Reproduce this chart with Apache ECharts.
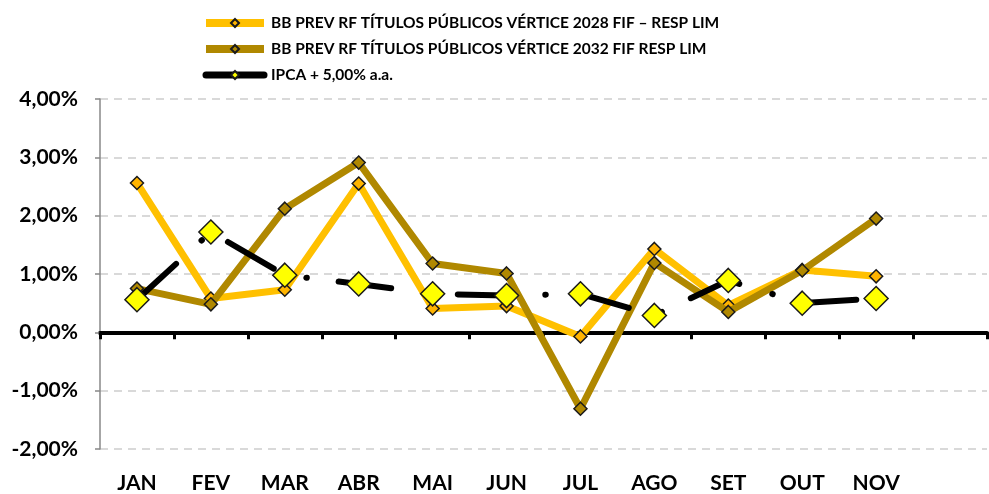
<!DOCTYPE html>
<html>
<head>
<meta charset="utf-8">
<script src="https://cdn.jsdelivr.net/npm/echarts@6/dist/echarts.min.js"></script>
<style>
html, body { margin: 0; padding: 0; background: #fff; }
#main { width: 989px; height: 494px; }
</style>
</head>
<body>
<div id="main"></div>
<script>
var months = ['JAN', 'FEV', 'MAR', 'ABR', 'MAI', 'JUN', 'JUL', 'AGO', 'SET', 'OUT', 'NOV', ''];
var names = [
    'BB PREV RF TÍTULOS PÚBLICOS VÉRTICE 2028 FIF – RESP LIM',
    'BB PREV RF TÍTULOS PÚBLICOS VÉRTICE 2032 FIF RESP LIM',
    'IPCA + 5,00% a.a.'
];
var v2028 = [2.56, 0.58, 0.73, 2.55, 0.41, 0.45, -0.07, 1.43, 0.46, 1.07, 0.96, null];
var v2032 = [0.75, 0.48, 2.12, 2.91, 1.18, 1.01, -1.31, 1.19, 0.35, 1.06, 1.95, null];
var ipca = [0.56, 1.72, 0.98, 0.83, 0.66, 0.63, 0.66, 0.29, 0.89, 0.50, 0.58, null];

var font = 'Lato, "Open Sans", sans-serif';

var chart = echarts.init(document.getElementById('main'));
chart.setOption({
    animation: false,
    legend: {
        left: 202,
        top: 15,
        padding: 0,
        orient: 'vertical',
        itemWidth: 58,
        itemHeight: 10,
        itemGap: 10,
        textStyle: { fontFamily: font, fontWeight: 'bold', fontSize: 15.5, color: '#000', padding: [0, 0, 0, 2] },
        data: [
            { name: names[0], lineStyle: { width: 8 } },
            { name: names[1], lineStyle: { width: 8 } },
            { name: names[2], lineStyle: { type: 'solid', width: 7 } }
        ]
    },
    grid: { left: 100, right: 2, top: 99, bottom: 45, outerBoundsMode: 'none' },
    xAxis: [{
        type: 'category',
        data: months,
        axisLine: { onZero: true, lineStyle: { color: '#000', width: 4 } },
        axisTick: { show: true, length: 7, lineStyle: { color: '#000', width: 3 } },
        axisLabel: { show: false }
    }, {
        // labels only, along the bottom of the plot
        type: 'category',
        data: months,
        position: 'bottom',
        axisLine: { show: false, onZero: false },
        axisTick: { show: false },
        axisLabel: {
            margin: 24,
            lineHeight: 20,
            fontFamily: font, fontWeight: 'bold', fontSize: 21, color: '#000'
        }
    }],
    yAxis: {
        type: 'value',
        min: -2,
        max: 4,
        interval: 1,
        axisLine: { show: true, lineStyle: { color: '#888', width: 1.5 } },
        axisTick: { show: true, length: 5, lineStyle: { color: '#888', width: 1.5 } },
        splitLine: { lineStyle: { color: '#d9d9d9', width: 2, type: [8, 6] } },
        axisLabel: {
            margin: 22,
            fontFamily: font, fontWeight: 'bold', fontSize: 21, color: '#000',
            formatter: function (v) { return v.toFixed(2).replace('.', ',') + '%'; }
        }
    },
    series: [{
        name: names[0],
        type: 'line',
        data: v2028,
        symbol: 'diamond',
        symbolSize: 13,
        lineStyle: { color: '#FFC000', width: 7 },
        itemStyle: { color: '#FFB400', borderColor: '#1a1a1a', borderWidth: 1.5 },
        z: 2
    }, {
        name: names[1],
        type: 'line',
        data: v2032,
        symbol: 'diamond',
        symbolSize: 13,
        lineStyle: { color: '#B08800', width: 7 },
        itemStyle: { color: '#B08800', borderColor: '#1a1a1a', borderWidth: 1.5 },
        z: 3
    }, {
        name: names[2],
        type: 'line',
        data: ipca,
        symbol: 'diamond',
        symbolSize: 24,
        lineStyle: { color: '#000', width: 6, type: [53, 34.5, 0.5, 32], cap: 'round' },
        itemStyle: { color: '#FFFF00', borderColor: '#1a1a1a', borderWidth: 1.5 },
        z: 4
    }]
});
</script>
</body>
</html>
